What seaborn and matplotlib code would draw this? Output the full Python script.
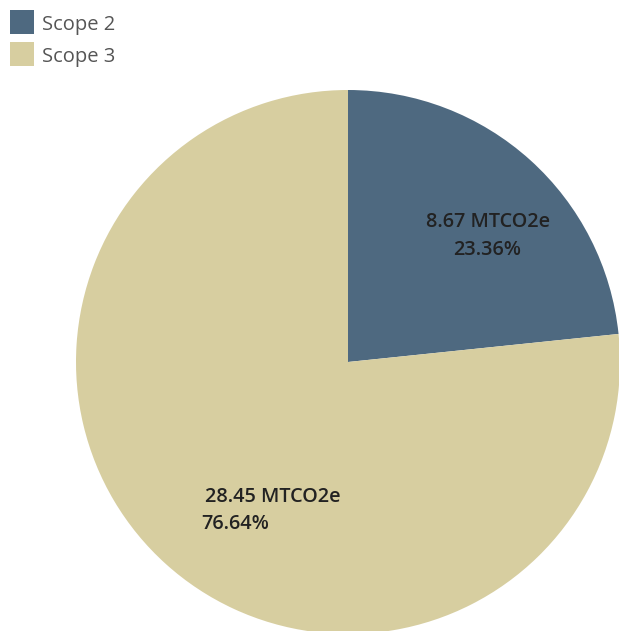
import matplotlib
matplotlib.use("Agg")
import matplotlib.pyplot as plt
import seaborn as sns

# chart data
scopes = ["Scope 2", "Scope 3"]
emissions = [8.67, 28.45]          # MTCO2e
shares = ["23.36%", "76.64%"]
colors = ["#4e6980", "#d7cea0"]

sns.set_theme(style="white")
plt.rcParams["font.family"] = ["Open Sans", "DejaVu Sans"]

W, H = 619, 631
fig = plt.figure(figsize=(W / 100, H / 100), dpi=100)
ax = fig.add_axes([0, 0, 1, 1])

cx, cy, r = 348, H - 362, 272
wedges, _ = ax.pie(emissions, colors=colors, startangle=90, counterclock=False,
                   center=(cx, cy), radius=r, frame=True,
                   wedgeprops=dict(linewidth=0))
ax.set_xlim(0, W)
ax.set_ylim(0, H)
ax.set_aspect("equal")
ax.axis("off")

# slice labels
lbl = dict(fontsize=14.3, fontweight="semibold", color="#222222", va="center")
ax.text(488, H - 222, f"{emissions[0]:.2f} MTCO2e", ha="center", **lbl)
ax.text(487, H - 250, shares[0], ha="center", **lbl)
ax.text(205, H - 497, f"{emissions[1]:.2f} MTCO2e", ha="left", **lbl)
ax.text(201, H - 524, shares[1], ha="left", **lbl)

leg = ax.legend(wedges, scopes, loc="upper left", bbox_to_anchor=(10 / W, 1 - 13 / H),
                bbox_transform=fig.transFigure, frameon=False, fontsize=14.5,
                handlelength=1.2, handleheight=1.2, handletextpad=0.4,
                labelspacing=0.5, borderaxespad=0, borderpad=0)
for t in leg.get_texts():
    t.set_color("#555555")
# make the legend swatches square, 24 px
for h in leg.legend_handles:
    h.set_height(24 * 72 / 100)
    h.set_width(24 * 72 / 100)

fig.savefig("out.png", dpi=100)
